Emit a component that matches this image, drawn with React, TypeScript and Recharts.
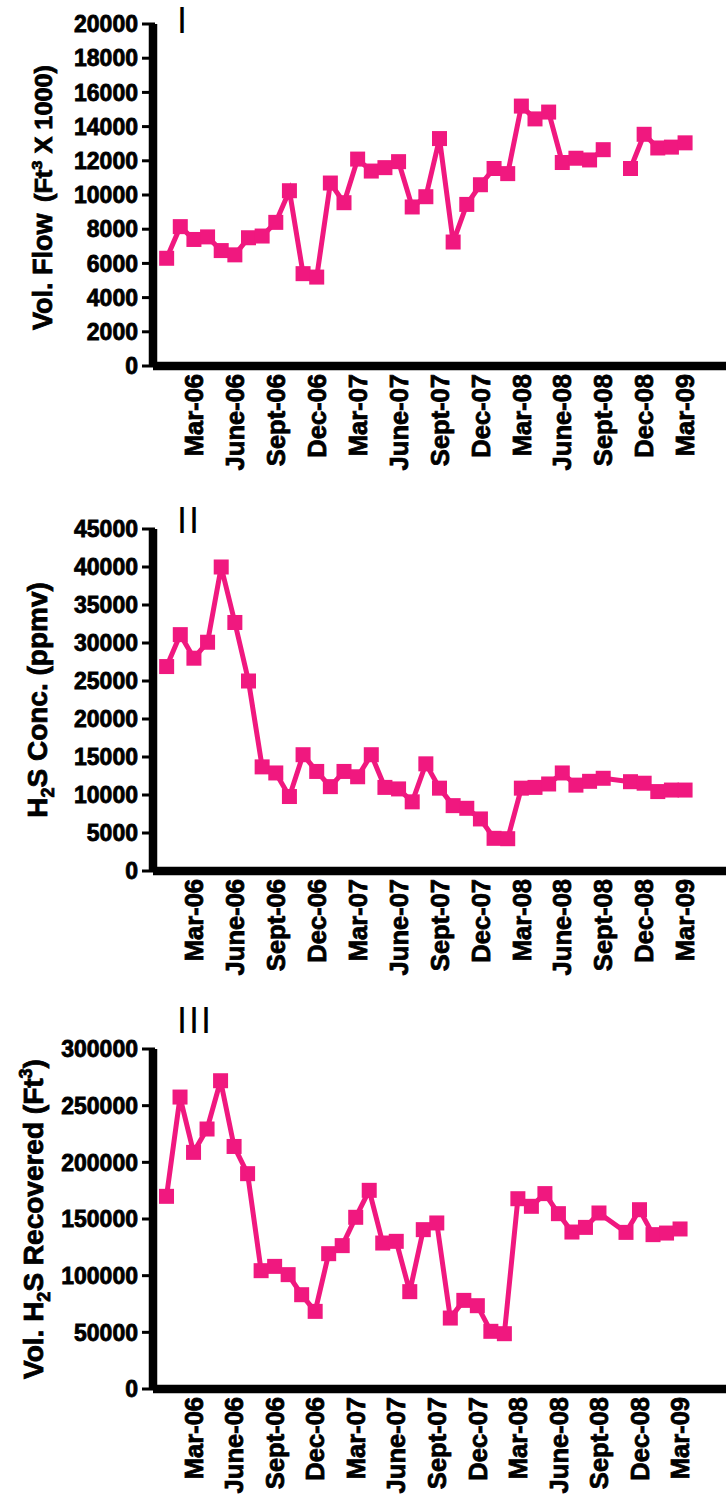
import React from 'react';
import { LineChart, Line, XAxis, YAxis, ReferenceLine } from 'recharts';

const PINK = '#F0187F';
const FONT = '"Liberation Sans", Arial, Helvetica, sans-serif';

// monthly samples, Jan-06 .. Mar-09
const MONTHS = [
  'Jan-06', 'Feb-06', 'Mar-06', 'Apr-06', 'May-06', 'June-06', 'July-06', 'Aug-06', 'Sept-06', 'Oct-06', 'Nov-06', 'Dec-06',
  'Jan-07', 'Feb-07', 'Mar-07', 'Apr-07', 'May-07', 'June-07', 'July-07', 'Aug-07', 'Sept-07', 'Oct-07', 'Nov-07', 'Dec-07',
  'Jan-08', 'Feb-08', 'Mar-08', 'Apr-08', 'May-08', 'June-08', 'July-08', 'Aug-08', 'Sept-08', 'Oct-08', 'Nov-08', 'Dec-08',
  'Jan-09', 'Feb-09', 'Mar-09',
];
const MONTH_TICKS = [2, 5, 8, 11, 14, 17, 20, 23, 26, 29, 32, 35, 38];

const VOL_FLOW = [
  6300, 8150, 7400, 7550, 6750, 6500, 7500, 7600, 8400, 10250, 5400, 5200,
  10700, 9550, 12100, 11400, 11600, 11950, 9300, 9900, 13300, 7250, 9450, 10600,
  11550, 11250, 15200, 14450, 14850, 11900, 12150, 12050, 12650, null, 11550, 13550,
  12750, 12800, 13050,
];
const H2S_CONC = [
  26900, 31100, 28000, 30100, 40000, 32700, 25000, 13700, 12900, 9800, 15300, 13100,
  11100, 13100, 12400, 15300, 11000, 10800, 9100, 14100, 10900, 8600, 8250, 6850,
  4300, 4250, 10900, 11000, 11450, 12900, 11300, 11800, 12200, null, 11750, 11550,
  10450, 10650, 10650,
];
const H2S_RECOVERED = [
  170000, 257600, 208800, 229400, 272000, 214000, 190000, 104400, 108200, 100900, 83200, 68500,
  119400, 126500, 151500, 175300, 128800, 130300, 85900, 140600, 146500, 62600, 78200, 73500,
  50900, 48800, 167900, 161200, 172400, 154700, 138500, 142600, 155300, null, 138200, 158200,
  136200, 137600, 141200,
];

const FLOW_TICKS = [0, 2000, 4000, 6000, 8000, 10000, 12000, 14000, 16000, 18000, 20000];
const CONC_TICKS = [0, 5000, 10000, 15000, 20000, 25000, 30000, 35000, 40000, 45000];
const RECOVERED_TICKS = [0, 50000, 100000, 150000, 200000, 250000, 300000];

const toRows = (values: (number | null)[]) => values.map((v, i) => ({ m: i, v }));

const Y_TICK_SIZE = 11;
const Y_TICK_MARGIN = 4;

function SquareDot(props: any) {
  const { cx, cy, index, value } = props;
  if (cx == null || cy == null || value == null) return <g key={`d-${index}`} />;
  return <rect key={`d-${index}`} x={cx - 7.5} y={cy - 7.5} width={15} height={15} fill={PINK} />;
}

// heavy black text, a bit bolder than the plain bold face
const TEXT = { fontFamily: FONT, fontWeight: 700, fill: '#000', stroke: '#000', strokeWidth: 0.8 } as const;

function MonthTick({ x, y, payload }: any) {
  return (
    <text {...TEXT} transform={`translate(${x},${y}) rotate(-90)`} textAnchor="end" dy="0.36em" fontSize={25.5}>
      {MONTHS[payload.value]}
    </text>
  );
}

// value label plus its own heavy tick mark reaching back to the axis
function ValueTick({ x, y, payload }: any) {
  return (
    <g>
      <rect x={x + Y_TICK_MARGIN} y={y - 1.5} width={Y_TICK_SIZE + 2} height={3} fill="#000" />
      <text {...TEXT} x={x} y={y} dy="0.36em" textAnchor="end" fontSize={23}>
        {payload.value}
      </text>
    </g>
  );
}

function FlowTitle(cy: number) {
  return (
    <g>
      <text {...TEXT} fontSize={27} transform={`translate(52,${cy + 135}) rotate(-90)`}>
        Vol. Flow
      </text>
      <text
        {...TEXT}
        fontSize={23}
        textLength={137}
        lengthAdjust="spacingAndGlyphs"
        transform={`translate(52,${cy + 7}) rotate(-90)`}
      >
        (Ft<tspan fontSize={15} dy={-10}>3</tspan>
        <tspan dy={10}> X 1000)</tspan>
      </text>
    </g>
  );
}

function ConcTitle(cy: number) {
  return (
    <text {...TEXT} fontSize={28} textAnchor="middle" transform={`translate(47,${cy}) rotate(-90)`}>
      H<tspan fontSize={18} dy={7}>2</tspan>
      <tspan dy={-7}>S Conc. (ppmv)</tspan>
    </text>
  );
}

function RecoveredTitle(cy: number) {
  return (
    <text {...TEXT} fontSize={28} textAnchor="middle" transform={`translate(43,${cy}) rotate(-90)`}>
      Vol. H<tspan fontSize={18} dy={7}>2</tspan>
      <tspan dy={-7}>S Recovered (Ft</tspan>
      <tspan fontSize={18} dy={-11}>3</tspan>
      <tspan dy={11}>)</tspan>
    </text>
  );
}

interface PanelProps {
  top: number;
  height: number;
  marginTop: number;
  plotHeight: number;
  xMax: number;
  values: (number | null)[];
  yTicks: number[];
  connect: boolean;
  roman: string;
  romanY: number;
  title: (cy: number) => React.ReactElement;
}

function Panel({ top, height, marginTop, plotHeight, xMax, values, yTicks, connect, roman, romanY, title }: PanelProps) {
  const cy = marginTop + plotHeight / 2;
  return (
    <div style={{ position: 'absolute', left: 0, top, width: 726, height }}>
      <LineChart
        width={726}
        height={height}
        data={toRows(values)}
        margin={{ top: marginTop, right: 0, bottom: 0, left: 0 }}
      >
        <XAxis
          dataKey="m"
          type="number"
          domain={[-1, xMax]}
          ticks={MONTH_TICKS}
          interval={0}
          height={height - marginTop - plotHeight}
          axisLine={false}
          tickLine={false}
          tickSize={6}
          tickMargin={2}
          tick={<MonthTick />}
        />
        <YAxis
          type="number"
          domain={[0, yTicks[yTicks.length - 1]]}
          ticks={yTicks}
          interval={0}
          width={153}
          axisLine={false}
          tickLine={false}
          tickSize={Y_TICK_SIZE}
          tickMargin={Y_TICK_MARGIN}
          tick={<ValueTick />}
          label={{
            content: () => (
              <g>
                {title(cy)}
                <text x={177} y={romanY} fontSize={36} fontFamily={FONT} fill="#000" letterSpacing={2}>
                  {roman}
                </text>
              </g>
            ),
          }}
        />
        {/* heavy axis frame on the left and bottom (half of the stroke lies outside the plot) */}
        <ReferenceLine x={-1} stroke="#000" strokeWidth={8.5} ifOverflow="visible" />
        <ReferenceLine y={0} stroke="#000" strokeWidth={8.5} ifOverflow="visible" />
        <Line
          type="linear"
          dataKey="v"
          stroke={PINK}
          strokeWidth={5}
          connectNulls={connect}
          dot={SquareDot}
          activeDot={false}
          isAnimationActive={false}
        />
      </LineChart>
    </div>
  );
}

export default function App() {
  return (
    <div style={{ position: 'absolute', left: 0, top: 0, width: 726, height: 1494, background: '#fff' }}>
      <Panel
        top={0}
        height={490}
        marginTop={24}
        plotHeight={342}
        xMax={41}
        values={VOL_FLOW}
        yTicks={FLOW_TICKS}
        connect={false}
        roman="I"
        romanY={33}
        title={FlowTitle}
      />
      <Panel
        top={490}
        height={510}
        marginTop={39}
        plotHeight={342}
        xMax={41}
        values={H2S_CONC}
        yTicks={CONC_TICKS}
        connect={true}
        roman="II"
        romanY={43}
        title={ConcTitle}
      />
      <Panel
        top={1000}
        height={494}
        marginTop={49}
        plotHeight={340}
        xMax={41.4}
        values={H2S_RECOVERED}
        yTicks={RECOVERED_TICKS}
        connect={true}
        roman="III"
        romanY={33}
        title={RecoveredTitle}
      />
    </div>
  );
}
